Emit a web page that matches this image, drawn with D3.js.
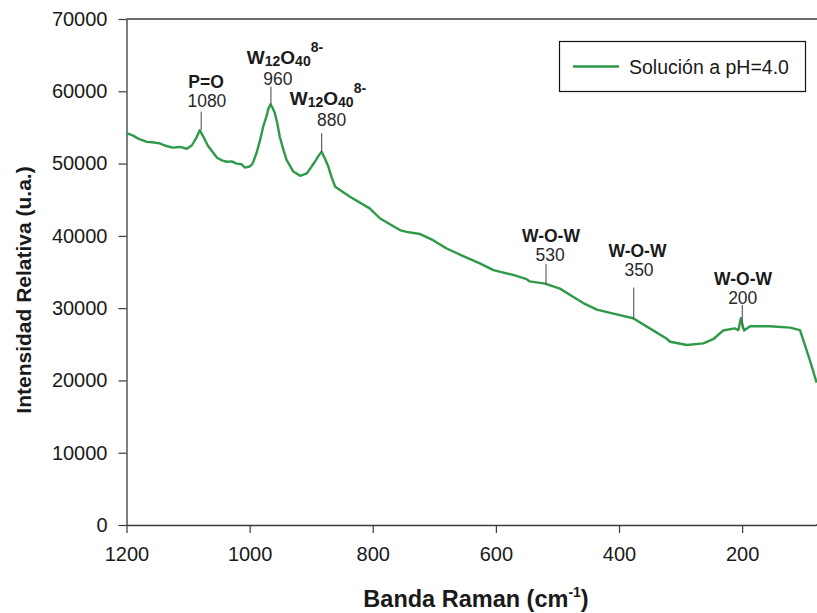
<!DOCTYPE html>
<html>
<head>
<meta charset="utf-8">
<script src="https://cdn.jsdelivr.net/npm/d3@7"></script>
<style>
  html, body { margin: 0; padding: 0; background: #ffffff; }
  svg { display: block; font-family: "Liberation Sans", Arial, sans-serif; }
</style>
</head>
<body>
<svg id="chart" width="817" height="613"></svg>
<script>
// ---- data ----
const wavenumber = [1200, 1190, 1180, 1167, 1158, 1146, 1138, 1125, 1113, 1102, 1094, 1087, 1081, 1075, 1068, 1053,
  1045, 1037, 1029, 1021, 1013, 1008, 1000, 996, 994, 989, 983, 978, 972, 970, 966, 963, 959, 955, 951, 945, 940,
  929, 918, 907, 894, 888.5, 883, 877.7, 872, 866.8, 861, 837, 805, 788, 756, 745, 723,
  702, 680, 653, 626, 604, 572, 550, 545, 520, 496, 474, 458, 436, 409, 377, 350, 323, 317, 290, 263,
  247, 231, 212, 206, 202, 197, 187, 155, 122, 106, 90, 79];
const intensity = [54200, 53900, 53400, 53000, 52950, 52800, 52500, 52200, 52300, 52050, 52500, 53480, 54600, 53700, 52500, 50800,
  50450, 50250, 50300, 50000, 49900, 49450, 49600, 49900, 50250, 51400, 53250, 55100, 56700, 57500, 58200, 57750, 56950, 55550, 53700, 51860, 50500,
  48900, 48300, 48650, 50250, 51030, 51650, 50700, 49550, 48090, 46800, 45400, 43800, 42400, 40800, 40550, 40250,
  39400, 38250, 37200, 36200, 35250, 34600, 34000, 33700, 33400, 32700, 31550, 30700, 29800, 29250, 28600, 27200, 25800, 25350, 24900, 25130,
  25700, 26900, 27200, 26970, 28600, 26900, 27500, 27500, 27300, 26970, 22800, 19700];

const xTicks = [1200, 1000, 800, 600, 400, 200];
const yTicks = [0, 10000, 20000, 30000, 40000, 50000, 60000, 70000];
const seriesName = "Solución a pH=4.0";

// annotations
const annNames   = ["P=O", "W12O40", "W12O40", "W-O-W", "W-O-W", "W-O-W"];
const annNumbers = ["1080", "960", "880", "530", "350", "200"];
const annLineX   = [1078.6, 965.4, 883, 518.6, 376.1, 199.7];     // cm-1 of marker line
const annLineTop = [57160, 60620, 54210, 36100, 32870, 30430];    // intensity at top of marker
const annLineBot = [54630, 58090, 51630, 33190, 28450, 27200];    // intensity at bottom of marker
const annNumX    = [1069.4, 954, 866.8, 512, 367.5, 199];         // cm-1 centre of number label
const annNumY    = [57810, 60850, 55220, 36550, 34440, 30560];    // intensity of number baseline
const annNameX   = [1070.7, 942.6, 872.8, 510.5, 370, 198.5];     // cm-1 centre of name label

// ---- layout ----
const svg = d3.select("#chart");
const mLeft = 126.5, mRight = 816, mTop = 19, mBottom = 525;
const x = d3.scaleLinear().domain([1200, 80]).range([mLeft, mRight]);
const y = d3.scaleLinear().domain([0, 70000]).range([mBottom, mTop]);

const axisColor = "#3a3a3a";
const textColor = "#1a1a1a";
const lineColor = "#2e9a48";

// frame top line
svg.append("line")
  .attr("x1", mLeft).attr("x2", 817).attr("y1", mTop).attr("y2", mTop)
  .attr("stroke", axisColor).attr("stroke-width", 1.3);

// y axis
const gy = svg.append("g").attr("transform", `translate(${mLeft},0)`)
  .call(d3.axisLeft(y).tickValues(yTicks).tickSize(8).tickSizeOuter(0).tickPadding(11).tickFormat(d3.format("d")));
gy.select(".domain").attr("stroke", axisColor).attr("stroke-width", 1.3);
gy.selectAll(".tick line").attr("stroke", axisColor).attr("stroke-width", 1.2);
gy.selectAll(".tick text").attr("font-size", 20).attr("fill", textColor).attr("font-family", "Liberation Sans, Arial, sans-serif");

// x axis
const gx = svg.append("g").attr("transform", `translate(0,${mBottom})`)
  .call(d3.axisBottom(x).tickValues(xTicks).tickSize(8).tickSizeOuter(0).tickPadding(14).tickFormat(d3.format("d")));
gx.select(".domain").attr("stroke", axisColor).attr("stroke-width", 1.6);
gx.selectAll(".tick line").attr("stroke", axisColor).attr("stroke-width", 1.2);
gx.selectAll(".tick text").attr("font-size", 20).attr("fill", textColor).attr("font-family", "Liberation Sans, Arial, sans-serif");
svg.append("line").attr("x1", mRight).attr("x2", 817).attr("y1", mBottom).attr("y2", mBottom)
  .attr("stroke", axisColor).attr("stroke-width", 1.6);

// series line
const pts = wavenumber.map((w, i) => [w, intensity[i]]);
svg.append("path")
  .datum(pts)
  .attr("fill", "none")
  .attr("stroke", lineColor)
  .attr("stroke-width", 2.4)
  .attr("stroke-linejoin", "round")
  .attr("d", d3.line().x(d => x(d[0])).y(d => y(d[1])));

// annotation markers
annNames.forEach((name, i) => {
  svg.append("line")
    .attr("x1", x(annLineX[i])).attr("x2", x(annLineX[i]))
    .attr("y1", y(annLineTop[i])).attr("y2", y(annLineBot[i]))
    .attr("stroke", "#555").attr("stroke-width", 1.1);

  svg.append("text")
    .attr("x", x(annNumX[i])).attr("y", y(annNumY[i]))
    .attr("text-anchor", "middle").attr("font-size", 17.5).attr("fill", "#2a2a2a")
    .text(annNumbers[i]);

  const isW = name === "W12O40";
  const t = svg.append("text")
    .attr("x", x(annNameX[i])).attr("y", y(annNumY[i]) - (isW ? 21 : 19))
    .attr("text-anchor", "middle").attr("font-size", 17.5).attr("font-weight", "bold").attr("fill", textColor);
  if (isW) {
    t.attr("font-size", 19);
    t.append("tspan").text("W");
    t.append("tspan").attr("font-size", 14).attr("dy", 2).text("12");
    t.append("tspan").attr("dy", -2).text("O");
    t.append("tspan").attr("font-size", 14).attr("dy", 2).text("40");
    t.append("tspan").attr("font-size", 14).attr("dy", -14).text("8-");
  } else {
    t.text(name);
  }
});

// legend
const lg = svg.append("g");
lg.append("rect").attr("x", 559.5).attr("y", 41.5).attr("width", 246).attr("height", 50)
  .attr("fill", "#fff").attr("stroke", "#111").attr("stroke-width", 1.2);
lg.append("line").attr("x1", 573).attr("x2", 619).attr("y1", 66.5).attr("y2", 66.5)
  .attr("stroke", lineColor).attr("stroke-width", 2.4);
lg.append("text").attr("x", 629).attr("y", 73.5).attr("font-size", 19.5).attr("fill", textColor).text(seriesName);

// axis titles
svg.append("text")
  .attr("transform", `translate(31,${(mTop + mBottom) / 2 + 18}) rotate(-90)`)
  .attr("text-anchor", "middle").attr("font-size", 21).attr("font-weight", "bold").attr("fill", textColor)
  .text("Intensidad Relativa (u.a.)");

const xt = svg.append("text")
  .attr("x", 476).attr("y", 607)
  .attr("text-anchor", "middle").attr("font-size", 23.5).attr("font-weight", "bold").attr("fill", textColor);
xt.append("tspan").text("Banda Raman (cm");
xt.append("tspan").attr("font-size", 14).attr("dy", -10).text("-1");
xt.append("tspan").attr("dy", 10).text(")");
</script>
</body>
</html>
